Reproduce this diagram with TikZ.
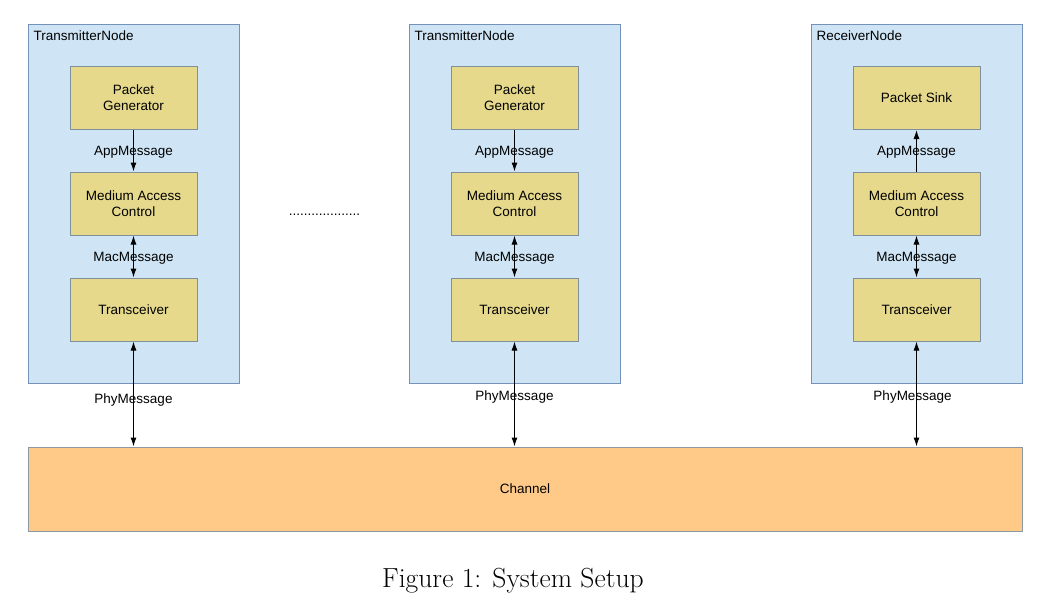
\documentclass[tikz,border=0pt]{standalone}
\usepackage{fontspec}
\newfontfamily\diagfont{Liberation Sans}
\usetikzlibrary{arrows.meta,positioning}
\definecolor{hostfill}{HTML}{CFE5F5}
\definecolor{hostline}{HTML}{7493B8}
\definecolor{layerfill}{HTML}{E6D98C}
\definecolor{layerline}{HTML}{7F8F9C}
\definecolor{chanfill}{HTML}{FFCA88}
\definecolor{chanline}{HTML}{8C98A4}
\tikzset{
	every node/.style={font=\diagfont\fontsize{13.5}{16}\selectfont},
	hostbox/.style={draw=hostline, fill=hostfill, line width=1pt, minimum width=211pt, minimum height=359pt, anchor=north west},
	layerbox/.style={draw=layerline, fill=layerfill, line width=1pt, minimum width=127pt, minimum height=63pt, align=center},
	chanbox/.style={draw=chanline, fill=chanfill, line width=1pt, minimum width=994pt, minimum height=84pt},
	msg/.style={-{Latex[length=9pt,width=6pt]}, line width=1pt},
	dmsg/.style={{Latex[length=9pt,width=6pt]}-{Latex[length=9pt,width=6pt]}, line width=1pt}
}

\begin{document}
\begin{tikzpicture}[x=1pt, y=-1pt]
	%%%%% START %%%%%
	\useasboundingbox (0,0) rectangle (1055,603);
	
	\node[hostbox] (hostA) at (28,24) {};
	\node[hostbox] (hostB) at (409,24) {};
	\node[hostbox] (hostC) at (811,24) {};
	\node[anchor=west] (hostAname) at (30,36) {TransmitterNode};
	\node[anchor=west] (hostBname) at (411,36) {TransmitterNode};
	\node[anchor=west] (hostCname) at (813,36) {ReceiverNode};
	
	% first transmitter
	\node[layerbox] (genA) at (133.5,98) {Packet\\Generator};
	\node[layerbox] (macA) at (133.5,203.5) {Medium Access\\Control};
	\node[layerbox] (trxA) at (133.5,309.5) {Transceiver};
	
	% second transmitter
	\node[layerbox] (genB) at (514.5,98) {Packet\\Generator};
	\node[layerbox] (macB) at (514.5,203.5) {Medium Access\\Control};
	\node[layerbox] (trxB) at (514.5,309.5) {Transceiver};
	
	% receiver
	\node[layerbox] (sinkC) at (916.5,98) {Packet Sink};
	\node[layerbox] (macC) at (916.5,203.5) {Medium Access\\Control};
	\node[layerbox] (trxC) at (916.5,309.5) {Transceiver};
	
	\node[chanbox] (chan) at (525,489) {Channel};
	
	\node (dots) at (324.5,215) {...................};
	
	\draw[msg] (genA) -- (macA);
	\draw[dmsg] (macA) -- (trxA);
	\draw[dmsg] (trxA) -- (trxA |- chan.north);
	\draw[msg] (genB) -- (macB);
	\draw[dmsg] (macB) -- (trxB);
	\draw[dmsg] (trxB) -- (trxB |- chan.north);
	\draw[msg] (macC) -- (sinkC);
	\draw[dmsg] (macC) -- (trxC);
	\draw[dmsg] (trxC) -- (trxC |- chan.north);
	
	\node (appA) at (133.5,152.5) {AppMessage};
	\node (macmA) at (133.5,258.5) {MacMessage};
	\node (phyA) at (133.5,400.5) {PhyMessage};
	\node (appB) at (514.5,152.5) {AppMessage};
	\node (macmB) at (514.5,258.5) {MacMessage};
	\node (phyB) at (514.5,397.5) {PhyMessage};
	\node (appC) at (916.5,152.5) {AppMessage};
	\node (macmC) at (916.5,258.5) {MacMessage};
	\node (phyC) at (912.5,397.5) {PhyMessage};
	
	\node[font=\fontsize{27.6}{32}\selectfont] (caption) at (513,581) {Figure 1: System Setup};
	%%%%% END %%%%%
\end{tikzpicture}
\end{document}
